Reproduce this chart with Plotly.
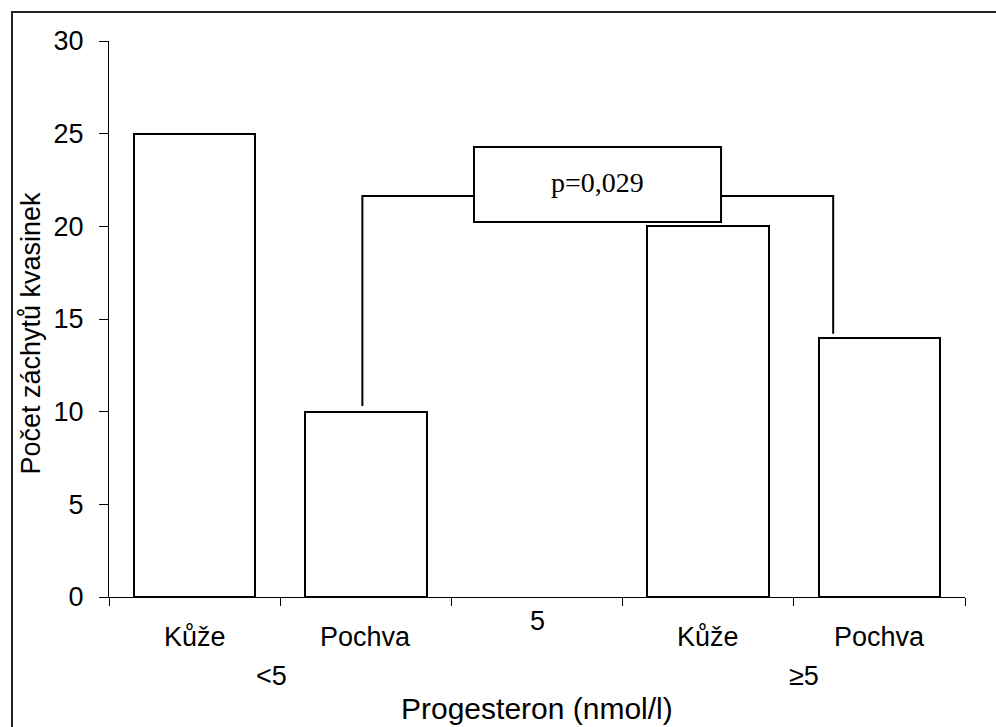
import plotly.graph_objects as go

# Yeast isolations by site, split by progesterone level
sites = ["Kůže", "Pochva", "", "Kůže", "Pochva"]
groups = ["<5", "<5", "5", "≥5", "≥5"]
counts = [25, 10, None, 20, 14]
group_labels = ["<5", "5", "≥5"]
p_text = "p=0,029"
y_ticks = [0, 5, 10, 15, 20, 25, 30]

x_pos = list(range(len(sites)))

SANS = "Liberation Sans, Arial, sans-serif"
SERIF = "Liberation Serif, Times New Roman, serif"

fig = go.Figure()
fig.add_trace(go.Bar(
    x=x_pos,
    y=counts,
    width=0.71,
    marker=dict(color="white", line=dict(color="black", width=2)),
    showlegend=False,
    hoverinfo="y",
))

# site labels under each bar
annotations = []
for i, s in enumerate(sites):
    if s:
        annotations.append(dict(x=i, y=-0.072, xref="x", yref="paper", text=s,
                                showarrow=False, font=dict(family=SANS, size=27, color="black"),
                                xanchor="center", yanchor="middle"))
# progesterone group labels
group_x = [0.45, 2.0, 3.56]
group_y = [-0.142, -0.043, -0.142]
for gx, gy, g in zip(group_x, group_y, group_labels):
    annotations.append(dict(x=gx, y=gy, xref="x", yref="paper", text=g,
                            showarrow=False, font=dict(family=SANS, size=27, color="black"),
                            xanchor="center", yanchor="middle"))
# axis titles
annotations.append(dict(x=2.0, y=-0.2, xref="x", yref="paper", text="Progesteron (nmol/l)",
                        showarrow=False, font=dict(family=SANS, size=30, color="black"),
                        xanchor="center", yanchor="middle"))
annotations.append(dict(x=-0.091, y=0.474, xref="paper", yref="paper", text="Počet záchytů kvasinek",
                        showarrow=False, textangle=-90, font=dict(family=SANS, size=27, color="black"),
                        xanchor="center", yanchor="middle"))

# significance bracket between the two "Pochva" bars
left_i, right_i = 1, 4
bracket_y = 21.64
box_x0, box_x1 = 1.632, 3.075
box_y0, box_y1 = 20.23, 24.28
left_x = left_i - 0.02
right_x = right_i - 0.27
line_style = dict(color="black", width=2)
shapes = [
    dict(type="path", xref="x", yref="y",
         path=f"M {left_x},{counts[left_i] + 0.3} L {left_x},{bracket_y} L {box_x0},{bracket_y}",
         line=line_style),
    dict(type="path", xref="x", yref="y",
         path=f"M {box_x1},{bracket_y} L {right_x},{bracket_y} L {right_x},{counts[right_i] + 0.2}",
         line=line_style),
    dict(type="rect", xref="x", yref="y", x0=box_x0, x1=box_x1, y0=box_y0, y1=box_y1,
         line=line_style, fillcolor="white"),
    # outer frame (top and left edges)
    dict(type="path", xref="paper", yref="paper",
         path="M -0.1133,-0.3 L -0.1133,1.052 L 1.1,1.052",
         line=dict(color="#222", width=2)),
]
annotations.append(dict(x=(box_x0 + box_x1) / 2, y=(box_y0 + box_y1) / 2 + 0.1, xref="x", yref="y",
                        text=p_text, showarrow=False,
                        font=dict(family=SERIF, size=28, color="black"),
                        xanchor="center", yanchor="middle"))

fig.update_layout(
    width=996, height=727,
    margin=dict(l=109, r=31, t=41, b=130, pad=0),
    paper_bgcolor="white",
    plot_bgcolor="white",
    annotations=annotations,
    shapes=shapes,
    bargap=0,
)
fig.update_xaxes(
    range=[-0.5, 4.5],
    tickmode="array",
    tickvals=[-0.5, 0.5, 1.5, 2.5, 3.5, 4.5],
    ticktext=[""] * 6,
    ticks="outside", ticklen=8, tickwidth=1, tickcolor="black",
    showline=True, linecolor="black", linewidth=1,
    showgrid=False, zeroline=False,
    fixedrange=True,
)
fig.update_yaxes(
    range=[0, 30],
    tickmode="array",
    tickvals=y_ticks,
    ticks="outside", ticklen=9, tickwidth=1, tickcolor="black",
    showline=True, linecolor="black", linewidth=1,
    showgrid=False, zeroline=False,
    tickfont=dict(family=SANS, size=27, color="black"),
    ticklabelstandoff=10,
    fixedrange=True,
)

fig.write_html("out.html")
